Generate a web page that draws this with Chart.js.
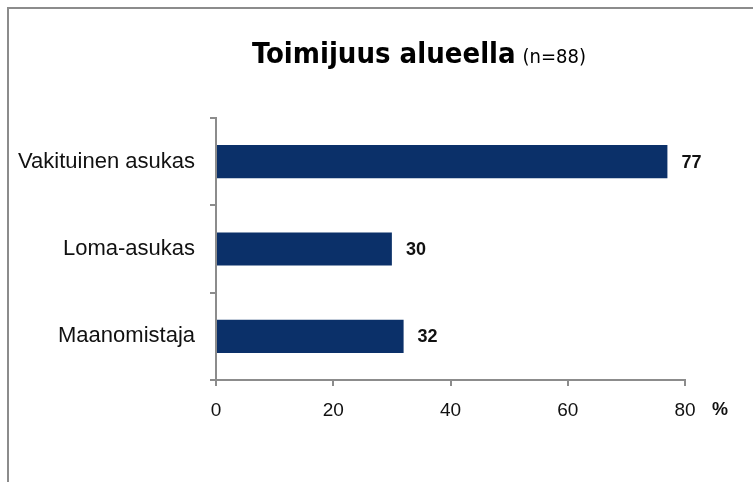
<!DOCTYPE html>
<html><head><meta charset="utf-8">
<script src="https://cdn.jsdelivr.net/npm/chart.js@4"></script>
<style>html,body{margin:0;padding:0;background:#fff;}#wrap{width:753px;height:482px;position:relative;}</style>
</head><body><div id="wrap"><canvas id="c" width="753" height="482"></canvas></div>
<script>
const categories = ["Vakituinen asukas", "Loma-asukas", "Maanomistaja"];
const values = [77, 30, 32];
const xTicks = [0, 20, 40, 60, 80];
const titleMain = "Toimijuus alueella";
const titleSub = "(n=88)";
const unitLabel = "%";

const GRAY = "#8c8c8c";
const NARROW = "'Liberation Sans Narrow', 'DejaVu Sans Condensed', 'Liberation Sans', sans-serif";
const SANS = "'Liberation Sans', Arial, sans-serif";

const decor = {
  id: 'decor',
  beforeDraw(chart) {
    const ctx = chart.ctx;
    ctx.save();
    ctx.fillStyle = '#fff';
    ctx.fillRect(0, 0, chart.width, chart.height);
    ctx.strokeStyle = GRAY;
    ctx.lineWidth = 2;
    ctx.beginPath();
    ctx.moveTo(8, chart.height);
    ctx.lineTo(8, 8);
    ctx.lineTo(chart.width, 8);
    ctx.stroke();
    ctx.restore();
  },
  afterDraw(chart) {
    const ctx = chart.ctx;
    ctx.save();
    ctx.textBaseline = 'alphabetic';
    ctx.fillStyle = '#000';
    ctx.font = "bold 29px " + NARROW;
    const w1 = ctx.measureText(titleMain).width;
    ctx.font = "20px " + NARROW;
    const gap = 7;
    const w2 = ctx.measureText(titleSub).width;
    const total = w1 + gap + w2;
    let x = 419 - total / 2;
    ctx.font = "bold 29px " + NARROW;
    ctx.fillText(titleMain, x, 63);
    ctx.font = "20px " + NARROW;
    ctx.fillText(titleSub, x + w1 + gap, 63);
    // unit label
    ctx.font = "bold 18px " + SANS;
    ctx.textAlign = 'left';
    ctx.fillStyle = '#111';
    ctx.fillText(unitLabel, 712, 415);
    // data labels
    const meta = chart.getDatasetMeta(0);
    ctx.font = "bold 18px " + SANS;
    ctx.textBaseline = 'middle';
    meta.data.forEach((bar, i) => {
      ctx.fillText(String(values[i]), bar.x + 14, bar.y + 1);
    });
    ctx.restore();
  }
};

new Chart(document.getElementById('c'), {
  type: 'bar',
  data: {
    labels: categories,
    datasets: [{
      data: values,
      backgroundColor: '#0b3069',
      borderWidth: 0,
      barPercentage: 0.38,
      categoryPercentage: 1
    }]
  },
  options: {
    indexAxis: 'y',
    responsive: false,
    animation: false,
    devicePixelRatio: 1,
    layout: { padding: { left: 0, top: 118, right: 68, bottom: 62 } },
    plugins: { legend: { display: false }, tooltip: { enabled: false }, title: { display: false } },
    scales: {
      x: {
        min: 0, max: 80,
        afterBuildTicks(s) { s.ticks = xTicks.map(v => ({ value: v })); },
        afterFit(s) { s.height = 40; },
        grid: { drawOnChartArea: false, drawTicks: true, tickLength: 6, color: GRAY, lineWidth: 2 },
        border: { color: GRAY, width: 2 },
        ticks: { color: '#111', font: { family: SANS, size: 19 }, padding: 13, maxRotation: 0 }
      },
      y: {
        afterFit(s) { s.width = 216; },
        grid: { drawOnChartArea: false, drawTicks: true, tickLength: 6, color: GRAY, lineWidth: 2, offset: true },
        border: { color: GRAY, width: 2 },
        ticks: { color: '#111', font: { family: SANS, size: 22 }, padding: 15 }
      }
    }
  },
  plugins: [decor]
});
</script></body></html>
